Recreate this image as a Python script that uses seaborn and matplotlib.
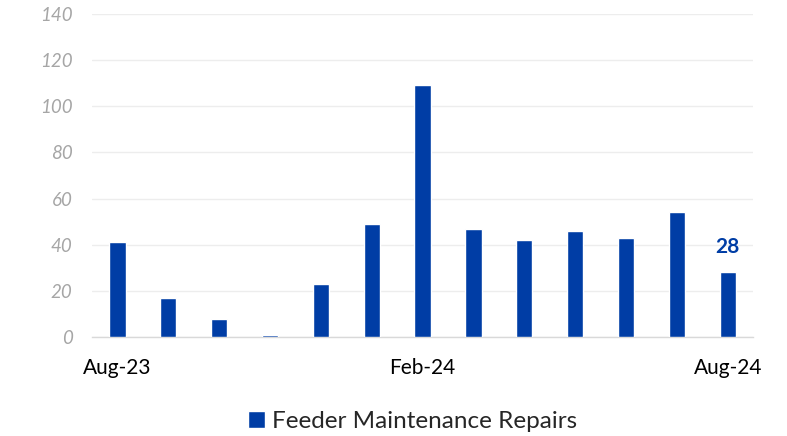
import pandas as pd
import matplotlib.pyplot as plt
import seaborn as sns

# Monthly feeder maintenance repairs
months = ["Aug-23", "Sep-23", "Oct-23", "Nov-23", "Dec-23", "Jan-24", "Feb-24",
          "Mar-24", "Apr-24", "May-24", "Jun-24", "Jul-24", "Aug-24"]
repairs = [41, 17, 8, 1, 23, 49, 109, 47, 42, 46, 43, 54, 28]
shown_ticks = ["Aug-23", "Feb-24", "Aug-24"]
y_ticks = [0, 20, 40, 60, 80, 100, 120, 140]

df = pd.DataFrame({"Month": months, "Repairs": repairs})

sns.set_style("white")
plt.rcParams["font.family"] = ["Lato", "DejaVu Sans"]

bar_color = "#003DA5"

fig = plt.figure(figsize=(7.87, 4.36), dpi=100)
ax = fig.add_axes([0.117, 0.227, 0.84, 0.741])
sns.barplot(data=df, x="Month", y="Repairs", color=bar_color, width=0.32,
            saturation=1, ax=ax, label="Feeder Maintenance Repairs", zorder=3)

ax.set_ylim(0, 140)
ax.set_xlim(-0.5, len(months) - 0.5)
ax.set_yticks(y_ticks)
ax.set_yticklabels([str(t) for t in y_ticks], color="#A6A6A6", fontsize=13.5, style="italic")
ax.yaxis.grid(True, color="#EDEDED", linewidth=1, zorder=0)
ax.set_axisbelow(True)

ax.set_xticks([months.index(m) for m in shown_ticks])
ax.set_xticklabels(shown_ticks, fontsize=15, color="#000000")
ax.tick_params(axis="x", length=0, pad=15)
ax.tick_params(axis="y", length=0, pad=14)

for side in ["top", "right", "left"]:
    ax.spines[side].set_visible(False)
ax.spines["bottom"].set_color("#D9D9D9")
ax.spines["bottom"].set_linewidth(1)

ax.set_xlabel("")
ax.set_ylabel("")

# data label on last bar
ax.text(len(months) - 1, repairs[-1] + 11, str(repairs[-1]), ha="center", va="center",
        fontsize=15, fontweight="bold", color=bar_color)

ax.legend(loc="center", bbox_to_anchor=(0.485, -0.26), frameon=False, fontsize=17.5,
          handlelength=0.7, handleheight=0.7, handletextpad=0.3)

fig.savefig("out.png", dpi=100)
